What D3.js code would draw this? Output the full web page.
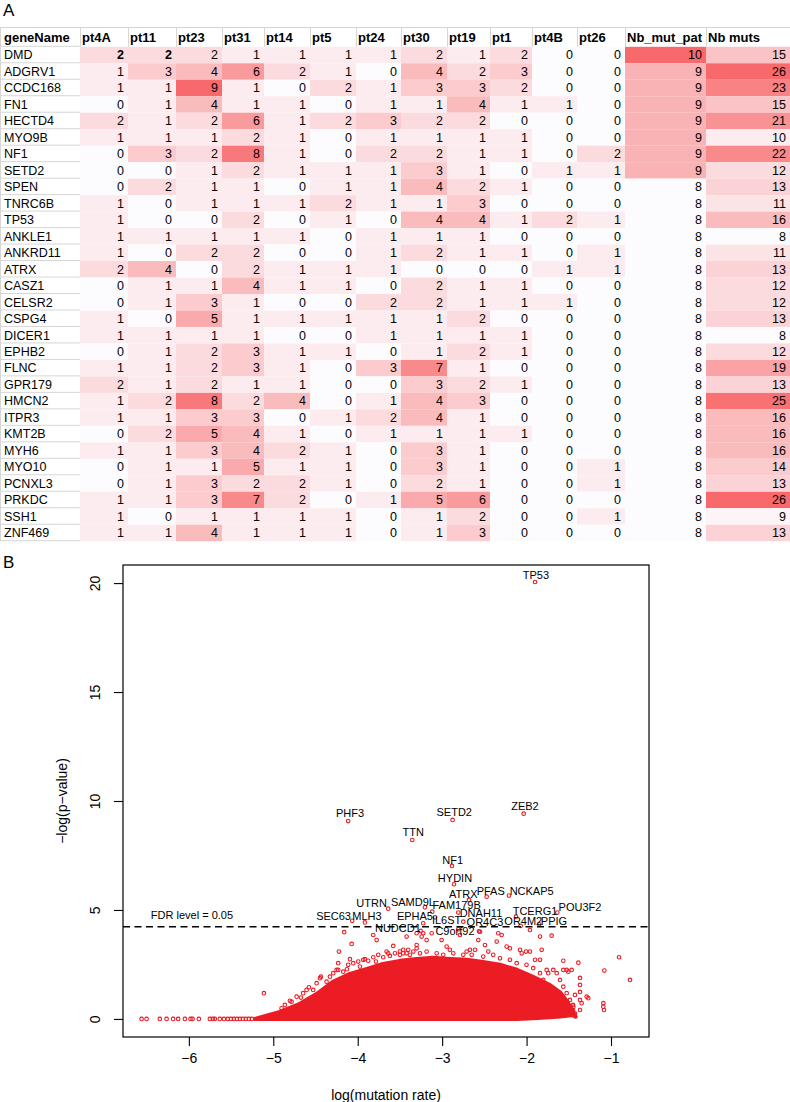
<!DOCTYPE html>
<html><head><meta charset="utf-8">
<script src="https://cdn.jsdelivr.net/npm/d3@7"></script>
<style>body{margin:0;background:#fff}svg{display:block}text{font-family:"Liberation Sans",Arial,Helvetica,sans-serif}</style>
</head><body>
<svg id="c" width="790" height="1102"></svg>
<script>
// ---------------- DATA : panel A ----------------
const genes = ["DMD","ADGRV1","CCDC168","FN1","HECTD4","MYO9B","NF1","SETD2","SPEN","TNRC6B","TP53","ANKLE1","ANKRD11","ATRX","CASZ1","CELSR2","CSPG4","DICER1","EPHB2","FLNC","GPR179","HMCN2","ITPR3","KMT2B","MYH6","MYO10","PCNXL3","PRKDC","SSH1","ZNF469"];
const patients = ["pt4A","pt11","pt23","pt31","pt14","pt5","pt24","pt30","pt19","pt1","pt4B","pt26"];
const pt4A = [2,1,1,0,2,1,0,0,0,1,1,1,1,2,0,0,1,1,0,1,2,1,1,0,1,0,0,1,1,1];
const pt11 = [2,3,1,1,1,1,3,0,2,0,0,1,0,4,1,1,0,1,1,1,1,2,1,2,1,1,1,1,0,1];
const pt23 = [2,4,9,4,2,1,2,1,1,1,0,1,2,0,1,3,5,1,2,2,2,8,3,5,3,1,3,3,1,4];
const pt31 = [1,6,1,1,6,2,8,2,1,1,2,1,2,2,4,1,1,1,3,3,1,2,3,4,4,5,2,7,1,1];
const pt14 = [1,2,0,1,1,1,1,1,0,1,0,1,0,1,1,0,1,0,1,1,1,4,0,1,2,1,2,2,1,1];
const pt5  = [1,1,2,0,2,0,0,1,1,2,1,0,0,1,1,0,1,0,1,0,0,0,1,0,1,1,1,0,1,1];
const pt24 = [1,0,1,1,3,1,2,1,1,1,0,1,1,1,0,2,1,1,0,3,0,1,2,1,0,0,0,1,0,0];
const pt30 = [2,4,3,1,2,1,2,3,4,1,4,1,2,0,2,2,1,1,1,7,3,4,4,1,3,3,2,5,1,1];
const pt19 = [1,2,3,4,2,1,1,1,2,3,4,1,1,0,1,1,2,1,2,1,2,3,1,1,1,1,1,6,2,3];
const pt1  = [2,3,2,1,0,1,1,0,1,0,1,0,1,0,1,1,0,1,1,0,1,0,0,1,0,0,0,0,0,0];
const pt4B = [0,0,0,1,0,0,0,1,0,0,2,0,0,1,0,1,0,0,0,0,0,0,0,0,0,0,0,0,0,0];
const pt26 = [0,0,0,0,0,0,2,1,0,0,1,0,1,1,0,0,0,0,0,0,0,0,0,0,0,1,1,0,1,0];
const nbMutPat = [10,9,9,9,9,9,9,9,8,8,8,8,8,8,8,8,8,8,8,8,8,8,8,8,8,8,8,8,8,8];
const nbMuts = [15,26,23,15,21,10,22,12,13,11,16,8,11,13,12,12,13,8,12,19,13,25,16,16,16,14,13,26,9,13];
const boldCells = [["DMD","pt4A"],["DMD","pt11"]];

// ---------------- DATA : panel B ----------------
const xTicks = [-6,-5,-4,-3,-2,-1];
const yTicks = [0,5,10,15,20];
const fdrLevel = 4.23;
// labelled genes
const sigGenes = ["TP53","PHF3","TTN","SETD2","ZEB2","NF1","HYDIN","ATRX","PFAS","NCKAP5","UTRN","SAMD9L","FAM179B","IL6ST","DNAH11","EPHA5","SEC63","MLH3","NUDCD1","C9orf92","OR4C3","OR4M2","PPIG","TCERG1","POU3F2"];
const sigX = [-1.900,-4.113,-3.354,-2.876,-2.034,-2.884,-2.860,-2.682,-2.473,-2.209,-3.639,-3.204,-2.809,-3.085,-2.750,-3.224,-4.065,-3.915,-3.255,-2.809,-2.564,-2.070,-1.850,-2.126,-1.636];
const sigY = [20.05,9.08,8.21,9.13,9.42,7.02,6.18,5.46,5.61,5.66,5.06,5.12,4.88,4.66,4.46,4.39,4.50,4.43,4.04,4.11,4.02,4.27,4.34,4.69,4.88];
const labX = [-1.889,-4.092,-3.342,-2.857,-2.019,-2.876,-2.848,-2.750,-2.425,-1.940,-3.835,-3.346,-2.828,-2.947,-2.540,-3.322,-4.286,-3.891,-3.524,-2.848,-2.493,-2.039,-1.675,-1.900,-1.367];
const labY = [20.37,9.46,8.56,9.50,9.77,7.29,6.45,5.73,5.89,5.89,5.31,5.35,5.23,4.54,4.88,4.74,4.74,4.74,4.16,4.05,4.46,4.51,4.51,4.97,5.15];
// genes with p-value = 1 (y = 0) at the low-rate end
const zeroX = [-6.560,-6.501,-6.344,-6.264,-6.186,-6.127,-6.047,-5.980,-5.956,-5.882,-5.751,-5.716,-5.692,-5.633,-5.585,-5.538,-5.502,-5.467,-5.431,-5.396,-5.360,-5.325,-5.289,-5.254];
// scattered genes around the dense cloud
const cloudX = [-5.111,-4.803,-4.673,-4.578,-4.436,-4.329,-4.231,-4.231,-4.223,-4.160,-4.072,-4.128,-4.092,-3.974,-3.915,-3.816,-3.776,-3.784,-3.658,-3.639,-3.579,-3.500,-3.461,-3.402,-3.421,-3.302,-3.302,-3.224,-3.243,-3.302,-3.184,-3.124,-3.117,-3.006,-2.947,-2.908,-2.789,-2.750,-2.710,-2.671,-2.611,-2.572,-2.552,-2.493,-2.454,-2.354,-2.335,-2.295,-2.236,-2.197,-2.078,-2.058,-2.007,-1.960,-1.960,-1.900,-1.841,-1.821,-1.841,-1.703,-1.762,-1.743,-1.684,-1.643,-1.565,-1.565,-1.525,-1.506,-1.466,-1.387,-1.367,-1.367,-1.367,-1.367,-1.288,-1.269,-1.091,-1.091,-1.083,-1.079,-0.905,-0.775,-1.643,-1.450,-1.450,-1.427,
  -4.902,-4.863,-4.783,-4.724,-4.646,-4.606,-4.527,-4.487,-4.448,-4.369,-4.329,-4.290,-4.250,-4.172,-4.113,-4.053,-3.994,-3.935,-3.876,-3.816,-3.757,-3.698,-3.619,-3.559,-3.500,-3.421,-3.342,-3.263,-3.184,
  -3.461,-3.382,-3.065,-2.987,-2.868,-2.650,-2.513,-2.395,-2.315,-2.197,-2.117,-2.001,-1.921,-1.841,-1.802,-1.743,-1.604,-1.565,-1.525,-1.486,-1.446,-1.427,-1.367,-1.348];
const cloudY = [1.18,0.83,0.98,1.45,1.94,1.48,2.56,2.25,3.09,3.98,3.44,2.28,2.74,2.40,2.74,3.85,3.62,2.63,3.09,3.01,3.35,3.09,3.17,3.17,3.78,3.39,3.24,3.93,3.78,3.93,3.62,3.93,4.92,3.62,3.32,3.17,3.85,2.94,3.09,3.17,3.17,3.62,4.00,3.39,3.09,3.55,3.93,3.85,3.32,3.24,3.17,3.01,3.09,3.09,4.08,2.71,2.71,3.17,3.78,3.82,2.25,2.10,2.25,2.10,2.67,2.25,2.25,2.17,2.25,2.58,1.88,1.56,1.24,0.87,1.02,0.95,0.72,0.56,0.41,2.22,2.83,1.79,0.18,0.64,0.41,1.10,
  0.49,0.64,0.79,1.02,1.18,1.33,1.33,1.64,1.87,1.71,1.94,2.10,2.25,2.17,2.48,2.56,2.63,2.71,2.67,2.83,2.94,2.83,2.89,3.01,2.94,3.01,3.09,3.01,3.09,
  3.01,2.94,3.01,2.94,3.01,2.94,2.86,2.94,2.78,2.71,2.56,2.48,2.33,2.10,1.79,1.41,1.79,1.48,1.18,0.87,0.56,0.26,0.41,0.72];
// outline of the solid, fully overplotted core of the cloud
const coreX = [-5.218,-4.922,-4.685,-4.483,-4.294,-4.092,-3.891,-3.701,-3.500,-3.299,-3.109,-2.908,-2.706,-2.517,-2.315,-2.114,-1.924,-1.723,-1.600,-1.520,-1.460,-1.420];
const coreTop = [0,0.32,0.69,1.15,1.70,2.06,2.29,2.52,2.66,2.75,2.80,2.75,2.71,2.61,2.48,2.25,1.93,1.55,1.20,0.80,0.40,0.10];
const coreBottom = [0,0,0,0,0,0,0,0,0,0,0,0,0,0,0,0,0.03,0.08,0.12,0.15,0.18,0.10];

// ---------------- DRAW ----------------
const svg = d3.select("#c");
const FONT = '"Liberation Sans",Arial,Helvetica,sans-serif';

// ===== Panel A : table =====
svg.append("text").attr("x",3).attr("y",16).style("font-size","17px").text("A");
const columns = ["geneName", ...patients, "Nb_mut_pat", "Nb muts"];
const colWidths = [80,48,48,46,42,46,46,45,46,43,42,45,48,81,84];
const colLeft = {}; const colRight = {};
{ let acc = 0; columns.forEach((c,i)=>{ colLeft[c]=acc; acc+=colWidths[i]; colRight[c]=acc; }); }
const headTop = 27, rowH = 16.48, bodyTop = 46.8;
const yRow = d3.scaleBand().domain(genes).range([bodyTop, bodyTop + rowH*genes.length]);

const ptData = {pt4A,pt11,pt23,pt31,pt14,pt5,pt24,pt30,pt19,pt1,pt4B,pt26};
const allPt = patients.flatMap(p=>ptData[p]);
const ptColor = d3.scaleLinear().domain([d3.min(allPt), d3.max(allPt)]).range(["#FCFCFF","#F8696B"]);
const patColor = d3.scaleLinear().domain(d3.extent(nbMutPat)).range(["#FCFCFF","#F8696B"]);
const mutColor = d3.scaleLinear().domain(d3.extent(nbMuts)).range(["#FCFCFF","#F8696B"]);

const cells = [];
genes.forEach((g,i)=>{
  patients.forEach(p=>cells.push({g, col:p, v:ptData[p][i], fill:ptColor(ptData[p][i])}));
  cells.push({g, col:"Nb_mut_pat", v:nbMutPat[i], fill:patColor(nbMutPat[i])});
  cells.push({g, col:"Nb muts", v:nbMuts[i], fill:mutColor(nbMuts[i])});
});
const tA = svg.append("g");
tA.selectAll("rect.cell").data(cells).join("rect").attr("class","cell")
  .attr("x",d=>colLeft[d.col]).attr("y",d=>yRow(d.g))
  .attr("width",d=>colRight[d.col]-colLeft[d.col]).attr("height",yRow.bandwidth())
  .attr("fill",d=>d.fill);
tA.selectAll("line.rl").data(genes).join("line").attr("class","rl")
  .attr("x1",0).attr("x2",colRight["geneName"])
  .attr("y1",d=>yRow(d)+yRow.bandwidth()-0.5).attr("y2",d=>yRow(d)+yRow.bandwidth()-0.5)
  .attr("stroke","#d6d6d6").attr("stroke-width",1);
tA.append("line").attr("x1",0).attr("x2",790).attr("y1",headTop+0.5).attr("y2",headTop+0.5).attr("stroke","#d6d6d6");
tA.append("line").attr("x1",colRight["geneName"]).attr("x2",0).attr("y1",bodyTop-0.5).attr("y2",bodyTop-0.5).attr("stroke","#d6d6d6");
tA.append("line").attr("x1",0.5).attr("x2",0.5).attr("y1",headTop).attr("y2",bodyTop+rowH*genes.length).attr("stroke","#d6d6d6");
tA.selectAll("line.hs").data(columns.slice(1)).join("line").attr("class","hs")
  .attr("x1",d=>colLeft[d]+0.5).attr("x2",d=>colLeft[d]+0.5)
  .attr("y1",headTop).attr("y2",bodyTop).attr("stroke","#d6d6d6");
tA.selectAll("text.hd").data(columns).join("text").attr("class","hd")
  .attr("x",d=>colLeft[d]+(d==="geneName"?4:2)).attr("y",headTop+15)
  .style("font-size","13px").style("font-weight","bold").text(d=>d);
tA.selectAll("text.gn").data(genes).join("text").attr("class","gn")
  .attr("x",4).attr("y",d=>yRow(d)+yRow.bandwidth()/2+4.3)
  .style("font-size","12.5px").text(d=>d);
const isBold = d=>boldCells.some(b=>b[0]===d.g && b[1]===d.col);
tA.selectAll("text.val").data(cells).join("text").attr("class","val")
  .attr("x",d=>colRight[d.col]-4).attr("y",d=>yRow(d.g)+yRow.bandwidth()/2+4.3)
  .attr("text-anchor","end").style("font-size","12.5px")
  .style("font-weight",d=>isBold(d)?"bold":"normal").text(d=>d.v);

// ===== Panel B : scatter =====
svg.append("text").attr("x",3).attr("y",568).style("font-size","17px").text("B");
const L=123,R=649,T=565,B=1037;
const x = d3.scaleLinear().domain([-6.78,-0.55]).range([L,R]);
const y = d3.scaleLinear().domain([-0.83,20.83]).range([B,T]);
const red = "#ec1c24";
const gB = svg.append("g");

gB.append("path").datum(coreX.map((v,i)=>({x:v,t:coreTop[i],b:coreBottom[i]})))
  .attr("d", d3.area().x(d=>x(d.x)).y0(d=>y(d.b)).y1(d=>y(d.t)).curve(d3.curveLinear))
  .attr("fill",red).attr("stroke",red).attr("stroke-width",4.2).attr("stroke-linejoin","round");

const pts = [];
zeroX.forEach(v=>pts.push([v,0]));
cloudX.forEach((v,i)=>pts.push([v,cloudY[i]]));
sigX.forEach((v,i)=>pts.push([v,sigY[i]]));
gB.selectAll("circle").data(pts).join("circle")
  .attr("cx",d=>x(d[0])).attr("cy",d=>y(d[1])).attr("r",1.8)
  .attr("fill","none").attr("stroke",red).attr("stroke-width",1.1);

gB.append("line").attr("x1",L).attr("x2",R).attr("y1",y(fdrLevel)).attr("y2",y(fdrLevel))
  .attr("stroke","#000").attr("stroke-width",1.4).attr("stroke-dasharray","7,4.5");
gB.append("text").attr("x",x(-6.45)).attr("y",y(fdrLevel)-8).style("font-size","11px").text("FDR level = 0.05");

gB.selectAll("text.lab").data(sigGenes).join("text").attr("class","lab")
  .attr("x",(d,i)=>x(labX[i])).attr("y",(d,i)=>y(labY[i])+4)
  .attr("text-anchor","middle").style("font-size","11px").text(d=>d);

gB.append("rect").attr("x",L).attr("y",T).attr("width",R-L).attr("height",B-T)
  .attr("fill","none").attr("stroke","#000").attr("stroke-width",1.2);

const ax = gB.append("g").attr("transform",`translate(0,${B})`)
  .call(d3.axisBottom(x).tickValues(xTicks).tickFormat(d3.format("d")).tickSize(9).tickSizeOuter(0));
ax.select(".domain").remove();
ax.selectAll("text").attr("y",16).style("font-size","14px").style("font-family",FONT);
ax.selectAll("line").attr("stroke-width",1.1);
const ay = gB.append("g").attr("transform",`translate(${L},0)`)
  .call(d3.axisLeft(y).tickValues(yTicks).tickFormat(d3.format("d")).tickSize(9).tickSizeOuter(0));
ay.select(".domain").remove();
ay.selectAll("line").attr("stroke-width",1.1);
ay.selectAll("text").attr("x",null).attr("dy",null)
  .attr("transform","translate(-28,0) rotate(-90)")
  .attr("text-anchor","middle").attr("dominant-baseline","central")
  .style("font-size","14px").style("font-family",FONT);
gB.append("text").attr("transform",`translate(62,${(T+B)/2}) rotate(-90)`)
  .attr("text-anchor","middle").attr("dominant-baseline","central").style("font-size","14px").text("\u2212log(p\u2212value)");
gB.append("text").attr("x",(L+R)/2).attr("y",1100).attr("text-anchor","middle").style("font-size","14px").text("log(mutation rate)");
</script>
</body></html>
